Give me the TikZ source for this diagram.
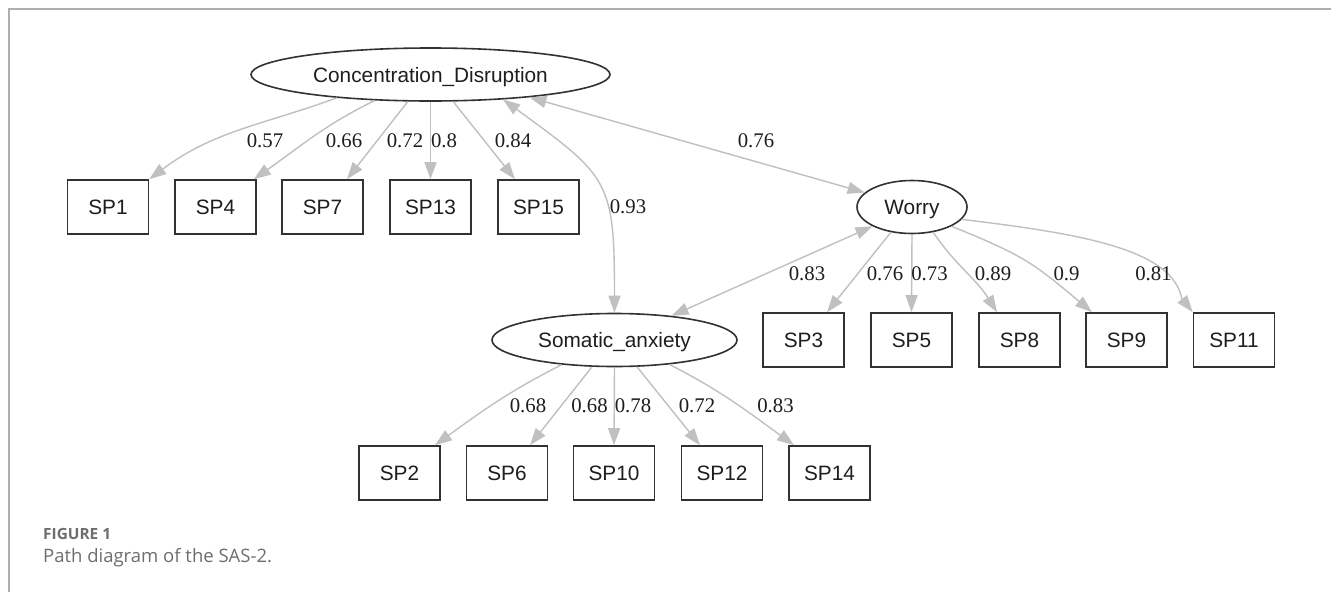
\documentclass[tikz,border=0pt]{standalone}
\usepackage{fontspec}
\setmainfont{Liberation Serif}
\newfontfamily\arialf{Liberation Sans}
\newfontfamily\capf{Open Sans}
\usetikzlibrary{shapes.geometric,arrows.meta}
\definecolor{edgegray}{RGB}{192,192,192}
\definecolor{framegray}{RGB}{175,175,175}
\definecolor{boxdark}{RGB}{50,50,50}
\definecolor{textdark}{RGB}{30,30,30}
\definecolor{capgray}{RGB}{110,110,110}
\begin{document}
\begin{tikzpicture}[x=1pt,y=1pt,
  lat/.style={ellipse, draw=boxdark, line width=1.6pt, inner sep=0pt, minimum height=53pt,
    font=\arialf\fontsize{20.8}{24}\selectfont, text=textdark, text depth=0pt},
  obs/.style={rectangle, draw=boxdark, line width=1.6pt, inner sep=0pt, minimum width=81pt,
    minimum height=54pt, font=\arialf\fontsize{20.8}{24}\selectfont, text=textdark, text depth=0pt},
  lbl/.style={font=\fontsize{20.8}{24}\selectfont, text=textdark, inner sep=0pt},
  load/.style={draw=edgegray, line width=1.4pt, -{Triangle[length=17pt,width=12pt]}},
  cov/.style={draw=edgegray, line width=1.4pt, {Triangle[length=17pt,width=12pt]}-{Triangle[length=17pt,width=12pt]}},
  capa/.style={font=\capf\bfseries\fontsize{15.4}{18}\selectfont, text=capgray, inner sep=0pt, anchor=base west},
  capb/.style={font=\capf\fontsize{18.5}{22}\selectfont, text=capgray, inner sep=0pt, anchor=base west}
]
\useasboundingbox (0,0) rectangle (1331,-592);
\fill[white] (0,0) rectangle (1331,-592);
\draw[framegray, line width=1.5pt] (1331,-9) -- (9,-9) -- (9,-592);

% latent variables
\node[lat, minimum width=359pt] (CD) at (430.5,-74.5) {Concentration\_Disruption};
\node[lat, minimum width=110pt] (W) at (912,-207) {Worry};
\node[lat, minimum width=245pt] (SA) at (614.5,-340) {Somatic\_anxiety};

% indicators row 1
\node[obs] (SP1) at (108,-207) {SP1};
\node[obs] (SP4) at (215.5,-207) {SP4};
\node[obs] (SP7) at (322.5,-207) {SP7};
\node[obs] (SP13) at (430.5,-207) {SP13};
\node[obs] (SP15) at (538.5,-207) {SP15};
% row 2
\node[obs] (SP3) at (803.5,-340) {SP3};
\node[obs] (SP5) at (911.5,-340) {SP5};
\node[obs] (SP8) at (1019.5,-340) {SP8};
\node[obs] (SP9) at (1126.5,-340) {SP9};
\node[obs] (SP11) at (1234,-340) {SP11};
% row 3
\node[obs] (SP2) at (399.5,-473) {SP2};
\node[obs] (SP6) at (507,-473) {SP6};
\node[obs] (SP10) at (614,-473) {SP10};
\node[obs] (SP12) at (722,-473) {SP12};
\node[obs] (SP14) at (829.5,-473) {SP14};

% loadings: Concentration_Disruption
\draw[load] (CD.194) to[out=200,in=37] (SP1.north east);
\draw[load] (CD.205) to[out=206,in=35] ([xshift=-3pt]SP4.north east);
\draw[load] (CD.230) -- ([xshift=24.5pt]SP7.north);
\draw[load] (CD.south) -- (SP13.north);
\draw[load] (CD.310) -- ([xshift=-23.5pt]SP15.north);

% loadings: Worry
\draw[load] (W.230) -- ([xshift=23.5pt]SP3.north);
\draw[load] (W.south) -- (SP5.north);
\draw[load] (W.310) to[out=-56,in=122] ([xshift=-22.5pt]SP8.north);
\draw[load] (W.334) to[out=-22,in=140,looseness=1.2] ([xshift=-34.5pt]SP9.north);
\coordinate (b11) at ([xshift=-11pt,yshift=14pt]SP11.north west);
\draw[load] (W.346) .. controls (1085,-234) and (1172,-250) .. (b11) -- (SP11.north west);

% loadings: Somatic_anxiety
\draw[load] (SA.205.5) to[out=207,in=36] ([xshift=35.5pt]SP2.north);
\draw[load] (SA.230) -- ([xshift=23pt]SP6.north);
\draw[load] (SA.south) -- (SP10.north);
\draw[load] (SA.310) -- ([xshift=-22pt]SP12.north);
\draw[load] (SA.336) to[out=-27,in=144] ([xshift=-35.5pt]SP14.north);

% covariances
\draw[cov] (CD.341) to[out=-36,in=90,looseness=1.4] (SA.north);
\draw[cov] (CD.347) -- (W.163);
\draw[cov] (W.206) -- (SA.23);

% labels
\node[lbl] (l1) at (265,-141) {0.57};
\node[lbl] (l4) at (344,-141) {0.66};
\node[lbl] (l7) at (405,-141) {0.72};
\node[lbl] (l13) at (444,-141) {0.8};
\node[lbl] (l15) at (513,-141) {0.84};
\node[lbl] (lcs) at (628,-207) {0.93};
\node[lbl] (lcw) at (756,-141) {0.76};
\node[lbl] (lws) at (807,-274) {0.83};
\node[lbl] (l3) at (885,-274) {0.76};
\node[lbl] (l5) at (929.5,-274) {0.73};
\node[lbl] (l8) at (993,-274) {0.89};
\node[lbl] (l9) at (1066.5,-274) {0.9};
\node[lbl] (l11) at (1153.5,-274) {0.81};
\node[lbl] (l2) at (528,-406) {0.68};
\node[lbl] (l6) at (589.5,-406) {0.68};
\node[lbl] (l10) at (633,-406) {0.78};
\node[lbl] (l12) at (697,-406) {0.72};
\node[lbl] (l14) at (775.5,-406) {0.83};

% caption
\node[capa] (figlab) at (43,-539) {FIGURE 1};
\node[capb] (figcap) at (43,-562.7) {Path diagram of the SAS-2.};
\end{tikzpicture}
\end{document}
